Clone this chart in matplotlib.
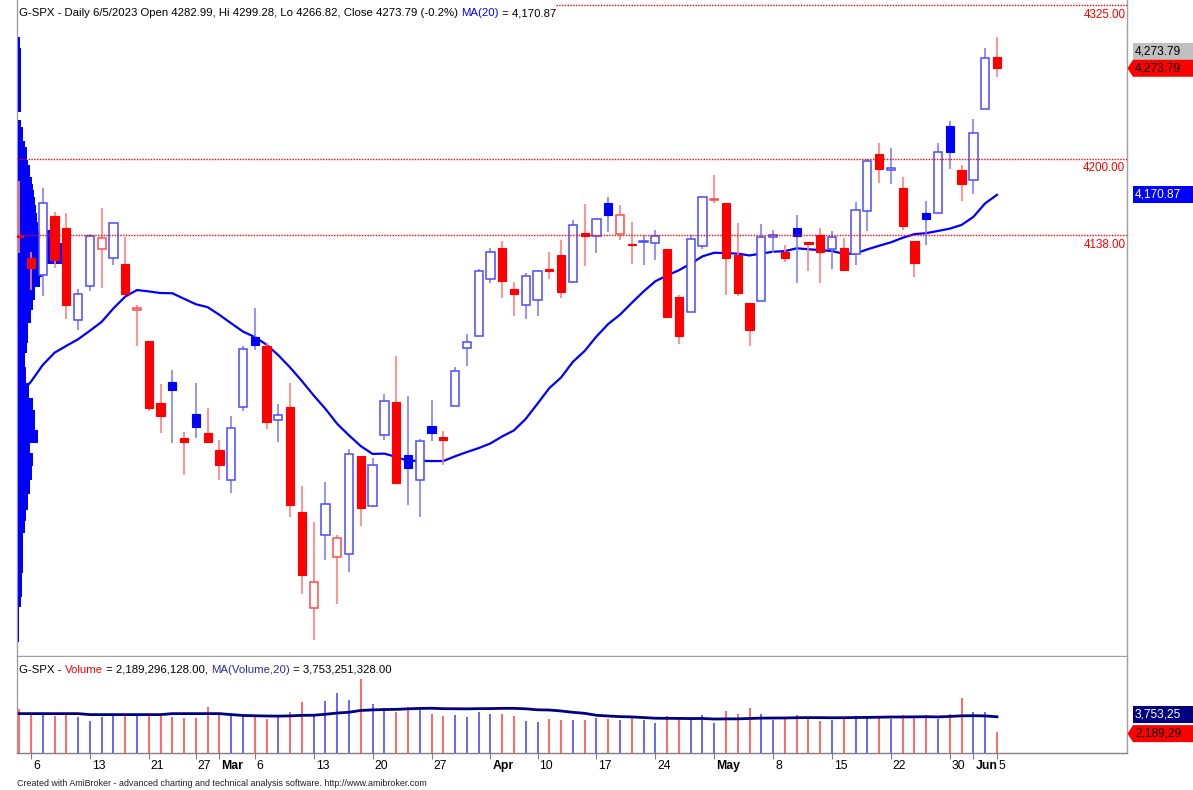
import numpy as np
import pandas as pd
import matplotlib
matplotlib.use("Agg")
import matplotlib.pyplot as plt
from matplotlib.patches import Rectangle, Polygon
from matplotlib import font_manager

# ── Font: AmiBroker uses a narrow Arial look ─────────────
names = {f.name for f in font_manager.fontManager.ttflist}
narrow = 'Liberation Sans Narrow' if 'Liberation Sans Narrow' in names else 'Liberation Sans'
plt.rcParams['font.family'] = [narrow, 'DejaVu Sans']

W, H = 1193, 790

# ── Data: G-SPX daily bars, 3 Feb .. 5 Jun 2023 ──────────
dates = pd.bdate_range('2023-02-03', '2023-06-05', freq='C',
                       holidays=['2023-02-20', '2023-04-07', '2023-05-29'])

opens = [4136.69, 4119.57, 4105.35, 4153.97, 4144.25, 4068.92, 4096.62, 4126.70, 4119.50, 4114.75,
         4077.39, 4052.35, 4001.83, 4018.60, 3973.24, 3992.36, 3977.19,
         3963.34, 3938.68, 3998.02, 4055.15, 4048.26, 3987.55, 3998.66, 3912.77, 3835.12, 3894.01,
         3876.74, 3878.93, 3958.69, 3917.47, 3975.89, 4002.04, 3959.21, 3939.21, 3982.93, 3974.13,
         3999.53, 4046.74, 4056.18,
         4102.20, 4128.03, 4094.50, 4081.15, 4085.20, 4110.29, 4121.72, 4100.04, 4140.11, 4137.17,
         4164.26, 4139.33, 4130.48, 4132.14, 4132.07, 4126.43, 4087.78, 4075.29, 4129.63,
         4166.79, 4164.10, 4122.25, 4082.61, 4084.73, 4136.98, 4124.25, 4143.74, 4132.24, 4138.54,
         4126.65, 4127.95, 4122.85, 4157.68, 4204.15, 4190.78, 4176.80, 4132.96, 4155.71, 4156.16,
         4226.71, 4190.74,
         4183.03, 4241.01, 4282.99]
highs = [4182.36, 4124.63, 4176.54, 4156.85, 4156.23, 4094.36, 4138.90, 4159.77, 4148.11, 4136.54,
         4081.51, 4052.35, 4017.37, 4028.30, 3978.25, 4018.05, 3997.50,
         3971.73, 3990.84, 4048.29, 4078.49, 4050.00, 4000.41, 4017.81, 3934.05, 3905.05, 3937.29,
         3894.26, 3964.46, 3958.91, 3956.62, 4009.08, 4039.49, 4007.66, 3972.74, 4003.83, 3979.20,
         4030.59, 4057.85, 4110.75,
         4127.66, 4133.13, 4099.69, 4107.32, 4109.50, 4124.26, 4134.37, 4150.26, 4163.19, 4151.72,
         4169.48, 4162.57, 4148.57, 4138.02, 4142.41, 4126.43, 4089.67, 4138.24, 4170.06,
         4186.92, 4164.10, 4148.30, 4082.61, 4147.02, 4142.30, 4130.35, 4154.28, 4132.80, 4143.74,
         4141.25, 4135.54, 4164.67, 4200.25, 4212.91, 4209.22, 4185.68, 4132.96, 4165.74, 4212.87,
         4231.10, 4195.44,
         4232.43, 4290.67, 4299.28]
lows = [4123.36, 4093.38, 4088.39, 4111.67, 4069.67, 4060.79, 4092.67, 4095.01, 4113.86, 4089.49,
        4047.95, 3995.19, 3976.90, 3969.19, 3943.08, 3973.55, 3968.98,
        3939.05, 3928.16, 3995.17, 4044.61, 3980.31, 3969.76, 3908.70, 3846.32, 3808.86, 3873.63,
        3838.24, 3864.11, 3901.27, 3916.89, 3971.19, 3936.17, 3919.05, 3909.16, 3970.49, 3951.53,
        3999.53, 4032.10, 4056.18,
        4098.79, 4086.87, 4072.56, 4069.84, 4072.55, 4102.61, 4086.94, 4099.40, 4113.20, 4123.18,
        4140.36, 4134.49, 4114.57, 4113.86, 4117.77, 4071.38, 4049.35, 4075.29, 4127.18,
        4164.12, 4089.72, 4088.86, 4048.28, 4084.73, 4123.81, 4116.65, 4098.92, 4109.29, 4099.12,
        4110.27, 4109.86, 4113.62, 4141.59, 4180.20, 4179.68, 4142.54, 4103.98, 4129.73, 4156.16,
        4192.18, 4166.15,
        4171.64, 4241.01, 4266.82]
closes = [4136.48, 4111.08, 4164.00, 4117.86, 4081.50, 4090.46, 4137.29, 4136.13, 4147.60, 4090.41,
          4079.09, 3997.34, 3991.05, 4012.32, 3970.04, 3982.24, 3970.15,
          3951.39, 3981.35, 4045.64, 4048.42, 3986.37, 3992.01, 3918.32, 3861.59, 3855.76, 3919.29,
          3891.93, 3960.28, 3916.64, 3951.57, 4002.87, 3936.97, 3948.72, 3970.99, 3977.53, 3971.27,
          4027.81, 4050.83, 4109.31,
          4124.51, 4100.60, 4090.38, 4105.02, 4109.11, 4108.94, 4091.95, 4146.22, 4137.64, 4151.32,
          4154.87, 4154.52, 4129.79, 4133.52, 4137.04, 4071.63, 4055.99, 4135.35, 4169.48,
          4167.87, 4119.58, 4090.75, 4061.22, 4136.25, 4138.12, 4119.17, 4137.64, 4130.62, 4124.08,
          4136.28, 4109.90, 4158.77, 4198.05, 4191.98, 4192.63, 4145.58, 4115.24, 4151.28, 4205.45,
          4205.52, 4179.83,
          4221.02, 4282.37, 4273.79]
# closes 6 Jan .. 2 Feb, needed for the 20-day MA at the left edge
prior_closes = [3895.08, 3892.09, 3919.25, 3969.61, 3983.17, 3999.09, 3990.97, 3928.86, 3898.85,
                3972.61, 4019.81, 4016.95, 4016.22, 4060.43, 4070.56, 4017.77, 4076.60, 4119.21,
                4179.76]

# volume in billions of shares
volumes = [4.51, 3.99, 3.99, 3.78, 4.09, 3.68, 3.27, 3.68, 3.78, 3.89, 3.89, 3.89, 3.78, 3.68,
           3.58, 3.58, 4.71,
           3.99, 3.89, 3.78, 3.89, 3.50, 3.78, 4.20, 5.23, 3.90, 5.33, 6.15, 5.43, 7.60, 5.02,
           4.61, 4.20, 4.71, 4.40, 3.99, 3.78, 3.89, 3.68, 4.20,
           3.99, 3.99, 3.78, 3.27, 3.16, 3.47, 3.37, 3.37, 3.37, 3.58, 3.47, 3.37, 3.58, 3.37,
           3.06, 3.78, 3.58, 3.58, 3.89,
           3.06, 4.30, 3.99, 4.61, 3.99, 3.37, 3.58, 3.89, 3.58, 3.27, 3.37, 3.58, 3.78, 3.78,
           3.78, 3.47, 3.89, 3.78, 3.89, 3.47, 3.99, 5.64,
           4.20, 4.20, 2.189296128]
# MA(Volume,20) for the first 19 bars (no earlier volume here)
vol_ma_head = [4.06, 4.06, 4.06, 4.06, 4.06, 4.06, 3.96, 3.96, 3.96, 3.96, 3.96, 3.96, 3.96,
               4.06, 4.06, 4.06, 4.06, 4.06, 3.96]

# price volume distribution on the left edge (price band top, bottom, relative volume)
profile_top = [4299, 4290, 4232, 4226, 4215, 4210, 4199, 4195, 4185, 4180, 4175, 4169, 4163,
               4156, 4149, 4142, 4132, 4115, 4104, 4096, 4085, 4077, 4067, 4050, 4042, 4031,
               4018, 4006, 3996, 3980, 3969, 3961, 3950, 3939, 3928, 3915, 3906, 3896, 3874,
               3863, 3844, 3836]
profile_bot = [4290, 4238, 4226, 4215, 4210, 4199, 4195, 4185, 4180, 4175, 4169, 4163, 4156,
               4149, 4142, 4132, 4115, 4104, 4096, 4085, 4077, 4067, 4050, 4042, 4031, 4018,
               4006, 3996, 3980, 3969, 3961, 3950, 3939, 3928, 3915, 3906, 3896, 3874, 3863,
               3844, 3836, 3807]
profile_vol = [1.5, 3, 3, 5, 7, 9, 10, 12, 14, 15, 16, 17, 18, 19, 20, 35, 44, 25, 22, 17, 15,
               12.7, 10, 8.7, 7, 8, 11.3, 15, 17, 20.3, 12, 15.3, 14, 12, 10.3, 8, 7, 5.3, 4.7,
               3.7, 2.7, 1.3]

hlines = [4325.00, 4200.00, 4138.00]

tick_idx = [1, 6, 11, 15, 17, 20, 25, 30, 35, 40, 44, 49, 54, 59, 64, 69, 74, 79, 81, 83]
tick_txt = ['6', '13', '21', '27', 'Mar', '6', '13', '20', '27', 'Apr', '10', '17', '24',
            'May', '8', '15', '22', '30', 'Jun', '5']

price_title = "G-SPX - Daily 6/5/2023 Open 4282.99, Hi 4299.28, Lo 4266.82, Close 4273.79 (-0.2%) "
vol_title_val = " = 2,189,296,128.00, "
vol_ma_val = " = 3,753,251,328.00"
# the right-hand volume boxes are cut by the window edge in the original
vol_ma_box = "3,753,25"
vol_last_box = "2,189,29"

# ── Derived series ───────────────────────────────────────
o = np.array(opens); h = np.array(highs); l = np.array(lows); c = np.array(closes)
v = np.array(volumes)
n = len(c)
pos = np.arange(n)
assert len(dates) == n

all_c = pd.Series(prior_closes + closes)
ma20 = all_c.rolling(20).mean().values[len(prior_closes):]
vol_ma = pd.Series(volumes).rolling(20).mean().values
vol_ma[:len(vol_ma_head)] = vol_ma_head
prev_c = np.concatenate([[prior_closes[-1]], c[:-1]])

# ── Figure and panes ─────────────────────────────────────
fig = plt.figure(figsize=(W / 100, H / 100), dpi=100)
fig.patch.set_facecolor('white')

def fx(px):
    return px / W

def fy(py):
    return 1 - py / H

ax = fig.add_axes([fx(17), fy(656), 1110 / W, 656 / H])
axv = fig.add_axes([fx(17), fy(753), 1110 / W, 96 / H])

for a in (ax, axv):
    a.set_xlim(-0.187, 94.04)
    a.set_facecolor('white')
    a.spines['top'].set_visible(False)
    for s in ('left', 'right', 'bottom'):
        a.spines[s].set_color('#a0a0a0')
        a.spines[s].set_linewidth(1)
ax.set_ylim(3795.9, 4329.3)
ax.set_xticks([]); ax.set_yticks([])
axv.set_ylim(0, 9.9)
axv.set_yticks([])
axv.spines['bottom'].set_color('#808080')
axv.set_xticks(tick_idx)
axv.tick_params(axis='x', length=4, color='#808080', labelbottom=False, direction='out')

BLUE, RED = '#0000ff', '#ff0000'

# MA under the profile
ax.plot(pos, ma20, color=BLUE, lw=1.6, zorder=2)

# volume-at-price profile
px_per_bar = 1110 / (94.04 + 0.187)
pscale = 44.0 / max(profile_vol)
ptop = np.array(profile_top); pbot = np.array(profile_bot)
ax.barh((ptop + pbot) / 2, np.array(profile_vol) * pscale / px_per_bar,
        height=ptop - pbot, left=-0.187 + 1.0 / px_per_bar,
        color=BLUE, linewidth=0, zorder=3)

# candles
up = c >= prev_c
wick_cols = np.where(up, '#8080ff', '#ff8080')
ax.vlines(pos, l, h, colors=wick_cols, lw=1.2, zorder=4)
for i in range(n):
    col = BLUE if up[i] else RED
    filled = c[i] < o[i]
    lo_b = min(o[i], c[i])
    hb = max(abs(c[i] - o[i]), 0.9)
    if filled:
        rect = Rectangle((i - 0.35, lo_b), 0.7, hb, facecolor=col, edgecolor=col,
                         lw=0.8, zorder=5)
    else:
        edge = '#4a4aff' if up[i] else '#ff4a4a'
        rect = Rectangle((i - 0.35, lo_b), 0.7, hb, facecolor='white', edgecolor=edge,
                         lw=1.1, zorder=5)
    ax.add_patch(rect)

# dotted study lines with their labels
for k, lvl in enumerate(hlines):
    xmin = (556 - 17) / 1110 if k == 0 else 0.0
    ax.axhline(lvl, xmin=xmin, color=RED, ls=(0, (1, 1)), lw=1.0, zorder=6)
    ax.annotate(f"{lvl:.2f}", xy=(0.9985, lvl), xycoords=('axes fraction', 'data'),
                xytext=(0, -2.5), textcoords='offset points', ha='right', va='top',
                color=RED, fontsize=8.4, zorder=7)

# volume bars + MA
vcols = np.where(c > o, '#4d4dff', '#ff4d4d')
axv.vlines(pos, 0, v, colors=vcols, lw=1.2, zorder=2)
axv.plot(pos, vol_ma, color='#000080', lw=2, zorder=3)

# ── Right-hand value boxes ───────────────────────────────
def to_py(a, y):
    return H - a.transData.transform((0, y))[1]

def value_box(py, text, bg, fg, arrow=False):
    hh = 8.5
    if arrow:
        pts = [(1127.5, py), (1133, py - hh), (1196, py - hh), (1196, py + hh), (1133, py + hh)]
    else:
        pts = [(1133, py - hh), (1196, py - hh), (1196, py + hh), (1133, py + hh)]
    fig.add_artist(Polygon([(fx(x), fy(y)) for x, y in pts], closed=True,
                           facecolor=bg, edgecolor='none', transform=fig.transFigure))
    fig.text(fx(1135), fy(py), text, color=fg, fontsize=8.6, ha='left', va='center')

close_py = to_py(ax, c[-1])
value_box(close_py - 17, f"{c[-1]:,.2f}", '#c0c0c0', 'black')
value_box(close_py, f"{c[-1]:,.2f}", RED, 'black', arrow=True)
value_box(to_py(ax, ma20[-1]), f"{ma20[-1]:,.2f}", BLUE, 'white')

vma_py = to_py(axv, 3.753251328)
value_box(vma_py - 2, vol_ma_box, '#000080', 'white')
value_box(max(to_py(axv, v[-1]), vma_py + 17), vol_last_box, RED, 'black', arrow=True)

# ── Titles as coloured runs of text ──────────────────────
renderer = fig.canvas.get_renderer()

def draw_runs(x_px, y_px, runs, size):
    for txt, col in runs:
        t = fig.text(fx(x_px), fy(y_px), txt, color=col, fontsize=size, ha='left', va='center')
        x_px += t.get_window_extent(renderer).width

draw_runs(19, 13, [(price_title, 'black'), ('MA(20)', BLUE),
                   (f" = {ma20[-1]:,.2f}", 'black')], 8.2)
draw_runs(19, 670, [("G-SPX - ", 'black'), ("Volume", RED), (vol_title_val, 'black'),
                    ("MA(Volume,20)", '#2a2aa0'), (vol_ma_val, 'black')], 8.2)

# date labels under the volume pane
for idx, txt in zip(tick_idx, tick_txt):
    xt = axv.transData.transform((idx, 0))[0]
    bold = txt.isalpha()
    fig.text(fx(xt + 2), fy(766), txt, fontsize=8.8, ha='left', va='center',
             fontweight='bold' if bold else 'normal', color='black')

fig.text(fx(17), fy(783),
         "Created with AmiBroker - advanced charting and technical analysis software. "
         "http://www.amibroker.com", fontsize=6.4, color='#202020', ha='left', va='center')

fig.savefig('out.png', dpi=100)
